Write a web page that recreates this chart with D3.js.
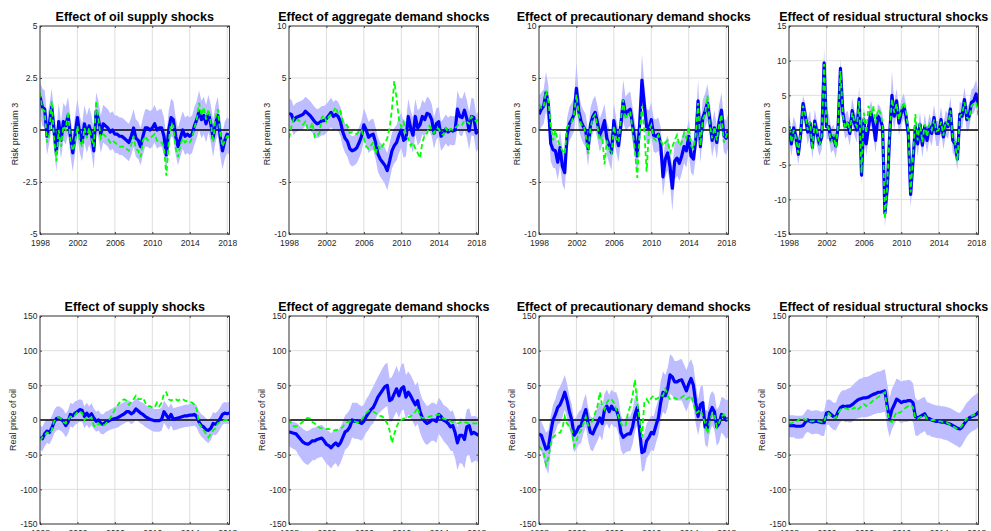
<!DOCTYPE html>
<html>
<head>
<meta charset="utf-8">
<script src="https://cdn.jsdelivr.net/npm/d3@7"></script>
<style>
  body { margin: 0; background: #fff; }
  text { font-family: "Liberation Sans", Arial, Helvetica, sans-serif; }
</style>
</head>
<body>
<div id="chart"></div>
<script>
// quarterly observations, 1998Q1 .. 2018Q2
const dates = d3.range(82).map(i => 1998 + i / 4);

// tick labels
const xTickLabels = [1998, 2002, 2006, 2010, 2014, 2018];
const rpTicksSmall = [-5, -2.5, 0, 2.5, 5];
const rpTicksMid = [-10, -5, 0, 5, 10];
const rpTicksLarge = [-15, -10, -5, 0, 5, 10, 15];
const priceTicks = [-150, -100, -50, 0, 50, 100, 150];

const titles = ['Effect of oil supply shocks', 'Effect of aggregate demand shocks',
  'Effect of precautionary demand shocks', 'Effect of residual structural shocks',
  'Effect of supply shocks', 'Effect of aggregate demand shocks',
  'Effect of precautionary demand shocks', 'Effect of residual structural shocks'];
const yLabels = ['Risk premium 3', 'Real price of oil'];

// ---- risk premium: oil supply shocks
const rpSupply = [1.6,1.1,1.0,-0.3, 0.3,1.1,0,-1.1, 0.4,-0.5,0.4,0.2, 0.7,-0.3,-1.1,-0.2,
  0.6,-0.2,-0.6,0.3, -0.2,0.2,-0.2,-1.0, 0.9,0.5,-0.2,0.3, 0.2,0.1,-0.1,0.0,
  -0.2,-0.2,-0.3,-0.3, -0.4,-0.5,-0.6,-0.3, 0.1,-0.4,-0.5,-0.8, -0.3,0.1,0.1,0.0,
  0.1,0.3,0.0,0.1, 0.1,-0.3,-1.2,0.0, 0.6,0.5,-0.3,-0.8, -0.4,0.0,-0.3,-0.2,
  -0.3,-0.2,0.2,0.5, 0.9,0.5,0.7,0.3, 0.8,0.3,-0.4,0.3, 0.7,-0.3,-1.0,-0.5, -0.2,-0.3];
const rpSupplyHi = [2.3,2.0,1.9,0.6, 1.2,2.0,0.9,-0.1, 1.3,0.4,1.3,1.1, 1.6,0.6,-0.2,0.7,
  1.5,0.7,0.3,1.2, 0.7,1.1,0.7,0.0, 1.8,1.4,0.7,1.2, 1.1,1.0,0.8,0.9,
  0.7,0.7,0.6,0.6, 0.5,0.4,0.3,0.6, 1.0,0.5,0.4,0.1, 0.6,1.0,1.0,0.9,
  1.0,1.2,0.9,1.0, 1.0,0.6,-0.3,0.9, 1.5,1.4,0.6,0.1, 0.5,0.9,0.6,0.7,
  0.6,0.7,1.1,1.4, 1.9,1.4,1.6,1.2, 1.7,1.2,0.5,1.2, 1.6,0.6,-0.1,0.4, 0.6,0.5];
const rpSupplyLo = [0.7,0.2,0.1,-1.2, -0.6,0.2,-0.9,-2.0, -0.5,-1.4,-0.5,-0.7, -0.2,-1.2,-2.0,-1.1,
  -0.3,-1.1,-1.5,-0.6, -1.1,-0.7,-1.1,-1.9, 0.0,-0.4,-1.1,-0.6, -0.7,-0.8,-1.0,-0.9,
  -1.1,-1.1,-1.2,-1.2, -1.3,-1.4,-1.5,-1.2, -0.8,-1.3,-1.4,-1.7, -1.2,-0.8,-0.8,-0.9,
  -0.8,-0.6,-0.9,-0.8, -0.8,-1.2,-2.0,-0.9, -0.3,-0.4,-1.2,-1.7, -1.3,-0.9,-1.2,-1.1,
  -1.2,-1.1,-0.7,-0.4, 0.0,-0.4,-0.2,-0.6, -0.1,-0.6,-1.3,-0.6, -0.2,-1.2,-1.9,-1.4, -1.1,-1.2];
const rpSupplyAlt = [1.8,1.0,0.9,-0.6, -0.2,1.4,-0.4,-1.5, 0.0,-0.8,0.2,0.0, 0.9,-0.5,-1.0,-0.6,
  0.2,-0.5,-0.8,0.1, -0.4,0.1,-0.4,-0.8, 1.4,0.5,-0.4,-0.2, -0.3,-0.4,-0.6,-0.5,
  -0.6,-0.7,-0.8,-0.8, -0.8,-0.9,-1.0,-0.7, -0.3,-0.9,-1.0,-1.3, -0.5,-0.3,-0.5,-0.4,
  -0.3,-0.2,-0.5,-0.6, -0.6,-0.8,-2.2,-0.6, 0.3,0.2,-0.9,-1.3, -0.7,-0.4,-0.6,-0.5,
  -0.6,-0.4,0.1,0.5, 1.3,0.7,1.1,0.5, 1.0,0.4,-0.6,0.6, 1.0,-0.1,-0.8,-0.5, -0.3,-0.3];

// ---- risk premium: aggregate demand shocks
const rpAggDem = [1.6,1.5,0.9,1.2, 1.3,1.4,1.5,1.8, 1.6,1.4,1.1,0.8, 0.6,0.7,0.9,0.9,
  1.1,1.4,1.7,1.3, 1.5,1.3,0.8,-0.2, -0.8,-1.1,-1.8,-2.0, -1.9,-1.7,-1.2,-0.6,
  0.5,0.0,-0.7,-0.5, -0.4,-1.2,-2.3,-2.8, -3.1,-3.4,-3.9,-3.0, -2.0,-1.5,-1.2,-0.5,
  0.0,-1.0,-0.8,1.3, 0.2,-0.5,1.3,0.2, 0.5,1.3,1.0,1.6, 1.5,1.0,-0.3,0.6,
  0.8,-0.6,-0.3,0.1, -0.2,0.0,-0.1,0.0, 2.0,1.3,1.2,1.9, 1.1,-0.1,1.3,1.2, -0.3,0.0];
const rpAggDemHi = [3.0,2.9,2.3,2.6, 2.7,2.8,2.9,3.2, 3.0,2.8,2.5,2.2, 2.0,2.1,2.3,2.3,
  2.5,2.8,3.1,2.7, 2.9,2.7,2.2,1.2, 0.6,0.3,-0.4,-0.6, -0.5,-0.2,0.3,0.9,
  2.1,1.5,0.8,1.0, 1.1,0.3,-0.7,-1.2, -1.4,-1.7,-2.2,-1.3, -0.3,0.2,0.5,1.2,
  1.7,0.7,0.9,3.0, 1.9,1.2,3.0,1.9, 2.1,2.9,2.6,3.2, 3.0,2.5,1.2,2.1,
  2.2,0.8,1.1,1.5, 1.2,1.4,1.3,1.4, 3.8,3.1,3.0,3.7, 2.9,1.7,3.1,3.0, 1.5,1.8];
const rpAggDemLo = [0.2,0.1,-0.5,-0.2, -0.1,0.0,0.1,0.4, 0.2,0.0,-0.3,-0.6, -0.8,-0.7,-0.5,-0.5,
  -0.3,0.0,0.3,-0.1, 0.1,-0.1,-0.6,-1.6, -2.2,-2.6,-3.3,-3.5, -3.4,-3.2,-2.7,-2.1,
  -1.0,-1.5,-2.2,-2.0, -1.9,-2.8,-4.0,-4.5, -4.8,-5.2,-5.8,-4.8, -3.7,-3.2,-2.9,-2.2,
  -1.7,-2.7,-2.5,-0.4, -1.5,-2.2,-0.4,-1.5, -1.2,-0.4,-0.7,0.0, -0.1,-0.6,-1.8,-0.9,
  -0.7,-2.0,-1.7,-1.3, -1.6,-1.4,-1.5,-1.4, 0.2,-0.5,-0.6,0.1, -0.7,-1.9,-0.5,-0.6, -2.1,-1.8];
const rpAggDemAlt = [-0.8,0.3,1.1,0.9, 1.0,0.7,0.5,0.8, 0.1,0.1,0.7,-0.7, -0.6,-0.3,1.2,1.4,
  0.8,1.3,1.5,1.8, 2.2,1.5,1.8,0.8, 0.6,0.4,-0.3,-0.2, -0.3,-0.4,-0.1,0.0,
  -0.8,-1.6,-1.8,-1.5, -1.2,-2.3,-1.5,-1.9, -1.5,-1.2,-0.8,0.2, 2.0,4.7,3.0,1.0,
  0.3,0.8,-0.5,-0.8, -1.5,-1.2,-1.8,-2.2, -2.7,-1.2,-0.5,-0.3, 0.4,0.0,-0.3,0.2,
  0.1,-0.3,-0.5,0.2, -0.2,0.1,0.0,0.2, 0.4,0.6,0.5,0.9, 0.8,0.6,1.3,1.1, 0.8,1.2];

// ---- risk premium: precautionary demand shocks
const rpPrec = [1.5,2.0,2.3,3.6, 2.5,-1.3,-1.9,-2.0, -3.1,-1.7,-3.5,-4.1, -0.5,0.6,1.0,1.5,
  4.0,1.8,0.8,0.3, -0.1,-1.8,0.5,1.3, 1.7,0.7,-0.5,0.1, 0.9,-0.8,-1.5,-2.2,
  0.9,-0.5,-1.5,0.5, 2.8,1.5,1.8,2.0, 0.5,-1.0,-2.5,0.5, 4.8,2.5,0.3,0.2,
  1.0,-0.5,-0.6,-0.4, -1.3,-4.5,-2.8,-2.2, -3.5,-5.6,-3.0,-2.7, -3.2,-2.5,-1.6,-2.0,
  -0.6,-2.5,-2.8,-1.0, 2.8,-1.6,1.2,1.8, 2.6,1.0,-1.0,0.2, -1.2,0.8,1.9,-0.5, -0.8,0.0];
const rpPrecHi = [3.3,3.6,3.9,5.6, 4.3,0.3,-0.3,-0.3, -1.5,0.0,-1.8,-2.4, 1.1,2.2,2.6,3.1,
  6.5,3.5,2.4,1.9, 1.5,-0.2,2.1,2.9, 3.3,2.3,1.1,1.7, 2.5,0.8,0.1,-0.5,
  2.6,1.1,0.1,2.1, 4.8,3.2,3.5,3.7, 2.2,0.7,-0.6,2.4, 7.3,4.5,2.0,1.9,
  2.7,1.1,1.0,1.2, 0.3,-2.8,-1.1,-0.5, -1.8,-3.6,-1.2,-1.0, -1.4,-0.8,0.0,-0.3,
  1.1,-0.8,-1.1,0.7, 4.8,0.1,2.9,3.5, 4.4,2.7,0.7,1.9, 0.4,2.4,3.6,1.1, 0.9,1.7];
const rpPrecLo = [-0.2,0.3,0.6,1.8, 0.8,-3.0,-3.6,-3.7, -4.8,-3.4,-5.2,-5.8, -2.1,-1.0,-0.6,-0.1,
  2.0,0.1,-0.8,-1.3, -1.7,-3.5,-1.1,-0.3, 0.1,-0.9,-2.1,-1.5, -0.7,-2.4,-3.2,-3.9,
  -0.8,-2.1,-3.1,-1.1, 0.9,-0.1,0.2,0.4, -1.1,-2.7,-4.3,-1.3, 2.5,0.6,-1.3,-1.4,
  -0.6,-2.1,-2.2,-2.0, -2.9,-6.4,-4.5,-3.9, -5.2,-7.8,-4.8,-4.4, -4.9,-4.2,-3.2,-3.6,
  -2.2,-4.1,-4.4,-2.6, 0.8,-3.2,-0.4,0.2, 0.9,-0.6,-2.6,-1.4, -2.8,-0.8,0.3,-2.1, -2.4,-1.6];
const rpPrecAlt = [2.5,2.1,2.2,3.8, 2.8,0.5,-1.0,0.0, -1.0,-1.5,-2.0,-2.3, 0.3,0.5,0.8,1.5,
  3.4,1.5,0.5,0.5, -0.5,-2.3,0.2,1.2, 1.5,0.3,-1.0,-0.5, -3.3,-1.0,-1.8,-2.4,
  0.4,-0.8,-1.2,1.0, 2.9,1.0,1.5,1.8, 0.0,-2.0,-4.6,-0.5, 2.3,0.0,-4.0,0.0,
  0.5,-0.8,-1.0,-0.5, -1.0,-1.5,-1.2,-1.0, -2.2,-1.6,-1.0,-0.5, -1.5,-1.2,-0.3,-0.8,
  0.3,-1.5,-1.8,-0.5, 2.6,-1.5,1.0,1.5, 3.3,0.5,-0.8,0.3, -1.0,0.5,1.5,-1.2, -0.6,0.0];

// ---- risk premium: residual structural shocks
const rpResid = [0.5,-2.0,0.3,-1.0, -3.5,-0.5,3.8,2.0, -0.3,1.0,-2.5,1.3, -0.5,-2.0,-1.0,9.7,
  0.5,0.5,-1.5,-1.0, -2.3,0.5,8.9,2.5, 0.5,1.0,-0.5,2.8, 1.0,0.0,4.5,-6.5,
  1.5,-2.0,0.5,2.5, 1.0,-1.5,2.0,1.5, 0.5,-12.0,-8.5,-1.0, 5.0,2.0,4.2,1.0,
  2.5,3.5,2.0,-0.5, -9.3,-4.5,0.5,-2.0, 0.8,-2.2,0.5,-1.5, 0.5,-0.5,1.8,-0.5,
  -0.5,1.5,-1.0,1.0, 0.5,3.0,-1.5,-2.0, -4.2,2.3,2.0,4.4, 1.5,2.0,4.0,4.2, 5.2,3.5];
const rpResidHi = [2.3,-0.3,2.0,0.8, -1.5,1.3,5.0,3.8, 1.5,2.8,-0.7,3.0, 1.2,-0.3,0.8,11.8,
  2.3,2.3,0.3,0.8, -0.5,2.3,10.3,4.3, 2.3,2.8,1.3,4.6, 2.8,1.8,6.3,-4.5,
  3.3,-0.2,2.3,4.3, 2.8,0.3,3.8,3.3, 2.3,-9.8,-6.5,1.0, 8.5,4.0,6.0,2.8,
  4.3,5.3,3.8,1.3, -7.0,-2.5,2.3,-0.2, 2.6,-0.4,2.3,0.3, 2.3,1.3,3.6,1.3,
  1.3,3.3,0.8,2.8, 2.3,4.8,0.3,-0.2, -2.4,4.1,3.8,6.2, 3.3,3.8,5.8,6.2, 7.2,5.3];
const rpResidLo = [-1.3,-3.8,-1.5,-2.8, -5.0,-2.3,2.0,0.2, -2.1,-0.8,-4.3,-0.5, -2.3,-3.8,-2.8,7.5,
  -1.3,-1.3,-3.3,-2.8, -4.1,-1.3,7.3,0.7, -1.3,-0.8,-2.3,1.0, -0.8,-1.8,2.7,-8.0,
  -0.3,-3.8,-1.3,0.7, -0.8,-3.3,0.2,-0.3, -1.3,-14.0,-10.5,-3.0, 2.0,0.0,2.4,-0.8,
  0.7,1.7,0.2,-2.3, -11.3,-6.5,-1.3,-3.8, -1.0,-4.0,-1.3,-3.3, -1.3,-2.3,0.0,-2.3,
  -2.3,-0.3,-2.8,-0.8, -1.3,1.2,-3.3,-3.8, -5.8,0.5,0.2,2.6, -0.3,0.2,2.2,2.4, 3.4,1.7];
const rpResidAlt = [1.5,-1.8,0.0,-1.2, -3.3,-0.2,3.5,2.2, 0.0,1.2,-2.8,1.0, -0.2,-2.2,-0.8,9.5,
  0.8,0.2,-1.8,-0.6, -2.5,0.8,8.5,2.2, 0.2,1.3,-0.3,2.5, 1.2,0.5,4.2,-6.2,
  2.5,-0.5,3.5,2.0, 3.5,1.0,3.0,2.5, 1.0,-12.8,-8.0,-0.5, 4.5,2.5,3.8,1.5,
  3.0,4.0,2.5,0.0, -9.0,-4.0,2.3,-1.5, 1.0,-1.8,0.8,-1.0, 0.8,0.0,1.5,-0.2,
  0.0,1.2,-0.8,1.2, 0.8,2.8,-1.2,-1.8, -4.5,2.0,2.3,4.0, 1.8,1.5,3.5,3.8, 4.0,2.0];

// ---- real price of oil: supply shocks
const poSupply = [-25,-27,-20,-16, -18,-12,-3,2, 3,1,-2,-8, -3,8,6,10,
  12,15,14,5, 10,5,9,3, -2,0,-5,-6, -3,-2,0,1,
  2,3,5,7, 9,12,12,9, 11,16,13,10, 8,5,3,1,
  0,-1,-1,-1, 1,12,7,2, 8,1,2,3, 4,5,6,6,
  7,7,8,5, -3,-8,-10,-14, -15,-12,-5,-6, -3,2,8,10, 9,10];
const poSupplyHi = [-8,-10,-3,1, -1,5,14,19, 20,18,15,9, 14,25,23,27,
  28,30,29,20, 25,20,24,17, 12,14,9,8, 12,13,15,17,
  19,20,22,24, 26,28,28,25, 27,31,29,26, 25,22,20,18,
  17,16,16,16, 18,28,23,18, 24,17,18,19, 20,21,22,22,
  23,23,24,21, 13,8,6,2, 0,4,11,10, 13,18,24,26, 25,27];
const poSupplyLo = [-43,-45,-38,-33, -35,-29,-20,-15, -14,-16,-19,-25, -20,-9,-11,-7,
  -5,-2,-3,-12, -7,-12,-8,-13, -17,-15,-20,-21, -18,-16,-14,-13,
  -12,-11,-9,-7, -5,-3,-3,-6, -4,1,-2,-5, -7,-10,-12,-14,
  -16,-17,-17,-17, -15,-4,-9,-14, -8,-15,-14,-13, -12,-11,-10,-10,
  -9,-9,-8,-11, -19,-24,-27,-31, -33,-29,-21,-22, -19,-13,-7,-5, -6,-5];
const poSupplyAlt = [-30,-25,-22,-18, -20,-15,-2,2, 4,2,-3,-5, 0,5,4,7,
  12,12,10,0, 4,2,4,-8, -10,-5,-8,-8, -6,-2,3,8,
  15,20,25,28, 30,28,22,26, 30,35,30,30, 32,25,20,20,
  18,18,25,20, 25,38,40,30, 28,30,30,28, 30,30,28,27,
  26,25,22,15, -5,-10,-15,-20, -25,-20,-15,-12, -5,-3,-2,0, 0,0];

// ---- real price of oil: aggregate demand shocks
const poAggDem = [-17,-18,-19,-20, -24,-28,-32,-34, -35,-33,-30,-30, -28,-27,-26,-30,
  -35,-37,-40,-36, -33,-37,-33,-25, -17,-15,-10,0, -2,-2,-3,-5,
  -2,5,10,15, 18,25,33,38, 43,48,50,28, 30,38,45,35,
  45,48,33,40, 35,28,22,28, 12,3,-2,-5, -3,0,0,-2,
  8,5,0,-2, -5,-10,-8,-18, -33,-22,-22,-28, -10,-8,-20,-18, -20,-22];
const poAggDemHi = [0,-2,-3,-4, -6,-10,-13,-15, -16,-14,-11,-11, -9,-8,-7,-10,
  -14,-16,-19,-15, -12,-15,-10,-2, 7,10,15,25, 25,25,22,20,
  22,30,35,42, 48,55,62,68, 75,80,83,60, 62,70,78,68,
  80,82,65,70, 65,58,50,55, 40,30,25,20, 22,25,25,22,
  32,28,22,20, 17,12,14,4, -10,2,2,-3, 15,17,5,6, 5,3];
const poAggDemLo = [-38,-40,-42,-44, -50,-55,-60,-63, -65,-62,-58,-58, -55,-54,-53,-58,
  -63,-66,-70,-65, -62,-68,-62,-53, -43,-40,-35,-25, -27,-27,-28,-30,
  -25,-18,-14,-8, -5,2,8,12, 15,18,20,-2, -2,6,12,3,
  13,15,0,8, 3,-3,-10,-5, -18,-27,-33,-36, -33,-30,-30,-33,
  -20,-24,-30,-34, -38,-44,-45,-55, -72,-62,-63,-70, -52,-50,-62,-60, -58,-62];
const poAggDemAlt = [2,-5,-9,-9, -8,-5,-2,2, 3,2,-3,-5, -8,-11,-12,-12,
  -13,-13,-14,-15, -15,-14,-12,-10, -5,-3,-2,-2, -2,-3,-3,0,
  5,10,13,13, 12,10,8,6, 5,0,-5,-15, -33,-20,-10,-2,
  0,2,3,4, 5,8,12,18, 5,3,3,4, 5,6,7,7,
  8,5,2,1, 0,-2,-3,-5, -5,-4,-3,-3, -4,-5,-5,-5, -5,-5];

// ---- real price of oil: precautionary demand shocks
const poPrec = [-20,-22,-32,-42, -40,-18,0,8, 18,22,30,40, 28,12,0,-22,
  -17,-10,-8,5, 15,-5,-18,-20, -12,-5,3,-5, 15,20,12,20,
  15,15,5,-18, -25,-22,-20,-20, -10,8,18,-15, -47,-45,-30,-25,
  -18,-20,-8,3, 25,40,35,45, 65,62,55,55, 57,58,50,42,
  52,60,50,25, 5,22,25,-10, -12,10,18,12, -10,-5,8,5, 0,2];
const poPrecHi = [0,-2,-10,-18, -15,5,22,30, 42,48,56,65, 52,35,22,0,
  5,12,15,28, 38,18,5,3, 10,18,26,18, 38,44,36,44,
  40,40,30,7, 0,3,5,5, 15,33,43,10, -22,-20,-5,0,
  7,5,18,30, 55,70,65,75, 95,92,85,85, 87,88,80,72,
  82,88,78,52, 30,48,50,15, 13,35,42,37, 15,20,33,32, 28,30];
const poPrecLo = [-42,-45,-57,-70, -78,-45,-25,-17, -7,-4,4,15, 3,-13,-25,-47,
  -42,-35,-33,-20, -10,-30,-43,-45, -37,-30,-22,-30, -10,-5,-13,-5,
  -10,-10,-20,-43, -50,-47,-45,-45, -35,-17,-7,-40, -75,-72,-55,-50,
  -43,-45,-33,-22, 0,12,8,18, 38,35,28,28, 28,28,20,12,
  22,30,20,-5, -22,-5,0,-35, -40,-18,-8,-15, -37,-32,-18,-22, -27,-25];
const poPrecAlt = [-38,-42,-48,-65, -55,-35,-25,-22, -20,-18,-12,5, -5,-10,-15,-38,
  -30,-20,-15,-5, 5,-8,-5,0, 10,20,40,20, 15,25,30,30,
  25,15,5,-5, -10,-8,10,20, 35,58,25,0, -25,25,30,25,
  32,35,30,32, 35,35,45,35, 30,30,32,30, 30,33,35,30,
  32,35,25,10, 12,15,5,-5, -20,-2,10,8, -10,-3,5,8, 2,0];

// ---- real price of oil: residual structural shocks
const poResid = [-8,-8,-8,-9, -9,-9,-8,-3, 0,-2,-3,-2, -2,-3,-4,-4,
  10,11,8,5, 4,12,18,20, 19,20,20,22, 25,28,30,31,
  32,32,33,35, 37,38,40,40, 41,42,20,2, 15,22,30,28,
  25,27,27,28, 28,25,5,3, 5,7,9,3, 2,0,-1,-2,
  -2,-3,-3,-4, -5,-6,-8,-10, -12,-13,-10,-5, 0,3,5,6, 8,12];
const poResidHi = [7,7,7,6, 6,6,7,12, 16,14,13,14, 14,13,12,13,
  28,30,28,25, 25,34,40,43, 43,45,46,49, 53,56,59,60,
  62,62,63,65, 67,68,70,70, 72,73,52,32, 45,52,60,58,
  55,57,57,58, 57,53,32,28, 30,32,33,26, 25,23,22,21,
  21,20,20,19, 18,17,15,13, 11,10,14,20, 25,28,32,35, 37,40];
const poResidLo = [-24,-25,-25,-27, -27,-27,-26,-20, -17,-19,-21,-20, -20,-21,-23,-23,
  -7,-7,-11,-14, -15,-8,-3,-1, -3,-3,-4,-3, 0,2,3,4,
  4,4,5,6, 8,9,10,10, 11,12,-10,-25, -13,-7,0,-2,
  -5,-3,-3,-2, -1,-3,-22,-23, -20,-18,-16,-22, -22,-24,-25,-26,
  -26,-27,-28,-29, -30,-32,-34,-36, -38,-40,-36,-30, -24,-20,-17,-15, -13,-10];
const poResidAlt = [-5,-5,-3,-3, 0,3,2,0, 1,-2,-2,-1, -1,-2,-3,-3,
  8,10,6,4, 3,10,15,17, 17,16,14,16, 18,14,17,20,
  23,20,23,25, 28,30,33,35, 38,40,15,-2, -3,5,12,10,
  12,15,18,20, 22,18,3,2, 4,5,7,2, 1,0,0,-1,
  -2,-2,-3,-3, -5,-7,-9,-11, -13,-12,-8,-3, 2,4,6,7, 9,11];

// panel table: which arrays go where
const panels = [
  { mid: rpSupply, lo: rpSupplyLo, hi: rpSupplyHi, alt: rpSupplyAlt, ticks: rpTicksSmall },
  { mid: rpAggDem, lo: rpAggDemLo, hi: rpAggDemHi, alt: rpAggDemAlt, ticks: rpTicksMid },
  { mid: rpPrec, lo: rpPrecLo, hi: rpPrecHi, alt: rpPrecAlt, ticks: rpTicksMid },
  { mid: rpResid, lo: rpResidLo, hi: rpResidHi, alt: rpResidAlt, ticks: rpTicksLarge },
  { mid: poSupply, lo: poSupplyLo, hi: poSupplyHi, alt: poSupplyAlt, ticks: priceTicks },
  { mid: poAggDem, lo: poAggDemLo, hi: poAggDemHi, alt: poAggDemAlt, ticks: priceTicks },
  { mid: poPrec, lo: poPrecLo, hi: poPrecHi, alt: poPrecAlt, ticks: priceTicks },
  { mid: poResid, lo: poResidLo, hi: poResidHi, alt: poResidAlt, ticks: priceTicks }
].map((p, i) => Object.assign(p, { title: titles[i], ylabel: yLabels[i < 4 ? 0 : 1] }));

// Page size and panel layout
const w = 991;
const h = 531;
const panelLefts = [40, 289, 539, 789];
const panelTops = [26, 316];
const pw = 189.5;
const ph = 208;

const svg = d3.select("#chart")
  .append("svg")
  .attr("width", w)
  .attr("height", h);

const textColor = "#262626";

panels.forEach((p, i) => {
  const left = panelLefts[i % 4];
  const top = panelTops[Math.floor(i / 4)];

  const xScale = d3.scaleLinear()
    .domain([1998, 2018.25])
    .range([0, pw]);

  const yScale = d3.scaleLinear()
    .domain(d3.extent(p.ticks))
    .range([ph, 0]);

  const g = svg.append("g")
    .attr("transform", `translate(${left},${top})`);

  g.append("clipPath")
    .attr("id", "clip" + i)
    .append("rect")
    .attr("width", pw)
    .attr("height", ph);

  // grid lines
  g.append("g")
    .selectAll("line")
    .data(xTickLabels)
    .enter()
    .append("line")
    .attr("x1", d => xScale(d)).attr("x2", d => xScale(d))
    .attr("y1", 0).attr("y2", ph)
    .attr("stroke", "#dedede");

  g.append("g")
    .selectAll("line")
    .data(p.ticks)
    .enter()
    .append("line")
    .attr("x1", 0).attr("x2", pw)
    .attr("y1", d => yScale(d)).attr("y2", d => yScale(d))
    .attr("stroke", "#dedede");

  const rows = dates.map((t, k) => ({ t: t, mid: p.mid[k], lo: p.lo[k], hi: p.hi[k], alt: p.alt[k] }));

  const plot = g.append("g").attr("clip-path", `url(#clip${i})`);

  // error band
  plot.append("path")
    .datum(rows)
    .attr("d", d3.area()
      .x(d => xScale(d.t))
      .y0(d => yScale(d.lo))
      .y1(d => yScale(d.hi)))
    .attr("fill", "#bdbdff");

  // zero line
  plot.append("line")
    .attr("x1", 0).attr("x2", pw)
    .attr("y1", yScale(0)).attr("y2", yScale(0))
    .attr("stroke", "#000")
    .attr("stroke-width", 1.3);

  // median response
  plot.append("path")
    .datum(rows)
    .attr("d", d3.line().x(d => xScale(d.t)).y(d => yScale(d.mid)))
    .attr("fill", "none")
    .attr("stroke", "#0000ff")
    .attr("stroke-width", 3.2)
    .attr("stroke-linejoin", "round");

  // green dashed line
  plot.append("path")
    .datum(rows)
    .attr("d", d3.line().x(d => xScale(d.t)).y(d => yScale(d.alt)))
    .attr("fill", "none")
    .attr("stroke", "#00ff00")
    .attr("stroke-width", 1.8)
    .attr("stroke-dasharray", "5,3");

  // axes, ticks point inward like matlab
  g.append("g")
    .attr("transform", `translate(0,${ph})`)
    .call(d3.axisBottom(xScale).tickValues(xTickLabels).tickFormat(d => String(d))
      .tickSize(-2).tickPadding(5.5));

  const yAxisG = g.append("g")
    .call(d3.axisLeft(yScale).tickValues(p.ticks).tickFormat(d => String(d))
      .tickSize(-2).tickPadding(2.5));

  g.append("g")
    .attr("transform", `translate(${pw},0)`)
    .call(d3.axisRight(yScale).tickValues(p.ticks).tickFormat("").tickSize(-2));

  g.append("g")
    .call(d3.axisTop(xScale).tickValues(xTickLabels).tickFormat("").tickSize(-2));

  g.selectAll(".domain").remove();
  g.selectAll(".tick line").attr("stroke", "#404040");
  g.selectAll(".tick text")
    .attr("fill", textColor)
    .style("font-size", "8.5px")
    .style("font-family", "'Liberation Sans', Arial, sans-serif");

  // box
  g.append("rect")
    .attr("width", pw)
    .attr("height", ph)
    .attr("fill", "none")
    .attr("stroke", "#404040")
    .attr("stroke-width", 1);

  // y label sits left of the tick labels
  const bb = yAxisG.node().getBBox();
  g.append("text")
    .attr("transform", `translate(${bb.x - 4.5},${ph / 2 + (i < 4 ? 4 : 0)}) rotate(-90)`)
    .attr("text-anchor", "middle")
    .attr("fill", textColor)
    .style("font-size", "9px")
    .text(p.ylabel);

  // title
  g.append("text")
    .attr("x", pw / 2)
    .attr("y", -5)
    .attr("text-anchor", "middle")
    .attr("fill", "#000")
    .style("font-size", "12.5px")
    .style("font-weight", "bold")
    .text(p.title);
});
</script>
</body>
</html>
